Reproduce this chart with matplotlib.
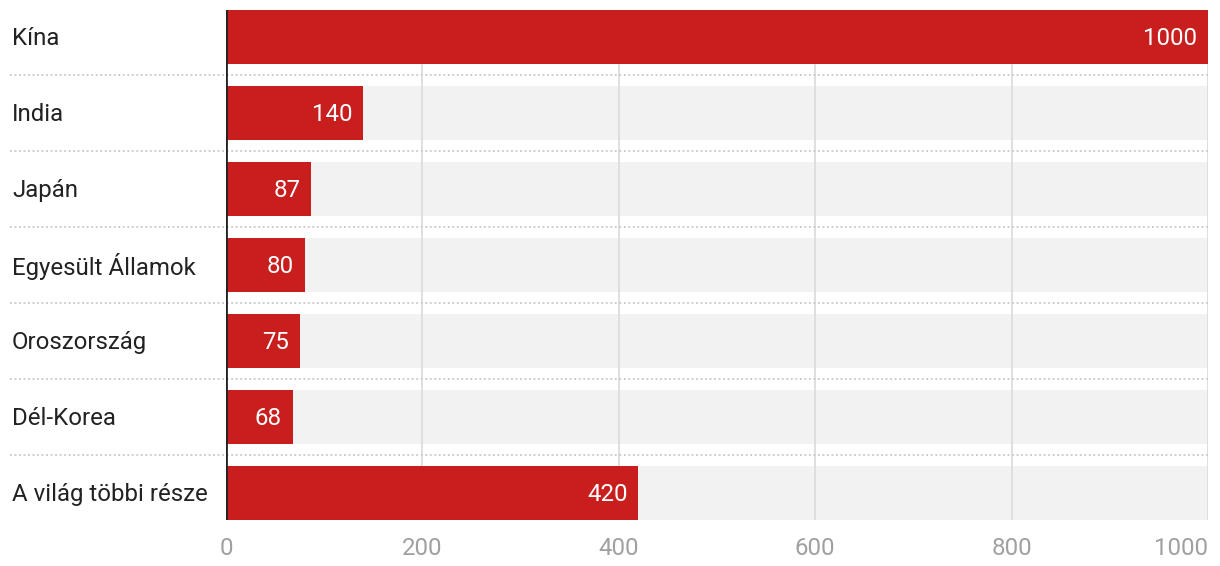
import matplotlib
matplotlib.use("Agg")
import matplotlib.pyplot as plt
from matplotlib.transforms import blended_transform_factory

plt.rcParams['font.family'] = ['Roboto', 'DejaVu Sans']

# data
countries = ['Kína', 'India', 'Japán', 'Egyesült Államok', 'Oroszország', 'Dél-Korea', 'A világ többi része']
values = [1000, 140, 87, 80, 75, 68, 420]
xticks = [0, 200, 400, 600, 800, 1000]

bar_color = '#c81e1e'
bg_color = '#f2f2f2'
fs = 17.3

W, H = 1220, 566
fig = plt.figure(figsize=(W / 100, H / 100), dpi=100)
ax = fig.add_axes([226 / W, 1 - 520 / H, (1208 - 226) / W, 510 / H])

n = len(countries)
bh = 54 / 76
ypos = list(range(n))

# grey background tracks
ax.barh(ypos, [1000] * n, height=bh, color=bg_color, zorder=1)

# vertical gridlines
for t in xticks[1:]:
    ax.axvline(t, color='#dcdcdc', lw=1.3, zorder=2)

# bars
ax.barh(ypos, values, height=bh, color=bar_color, zorder=3)

# value labels inside bars
for y, v in zip(ypos, values):
    ax.text(v - 11, y + 0.02, str(v), ha='right', va='center', color='white',
            fontsize=fs, zorder=4)

# dotted row separators reaching into the label area
trans = blended_transform_factory(fig.transFigure, ax.transData)
for i in range(n - 1):
    ax.plot([10 / W, 1208 / W], [i + 0.5, i + 0.5], transform=trans,
            color='#c8c8c8', lw=1.3, ls=(0, (1, 1.5)), clip_on=False, zorder=2)

# country labels
for y, c in zip(ypos, countries):
    ax.text(12 / W, y + 0.02, c, transform=trans, ha='left', va='center',
            color='#222222', fontsize=fs)

ax.set_xlim(0, 1000)
ax.set_ylim(n - 1 + bh / 2, -bh / 2)

ax.axvline(0, color='#222222', lw=2, zorder=5)

for s in ax.spines.values():
    s.set_visible(False)
ax.set_yticks([])
ax.set_xticks(xticks)
ax.set_xticklabels([str(t) for t in xticks])
ax.tick_params(axis='x', length=0, pad=12, labelsize=fs, labelcolor='#a0a0a0')
lbls = ax.get_xticklabels()
lbls[-1].set_ha('right')

fig.savefig('out.png', dpi=100)
